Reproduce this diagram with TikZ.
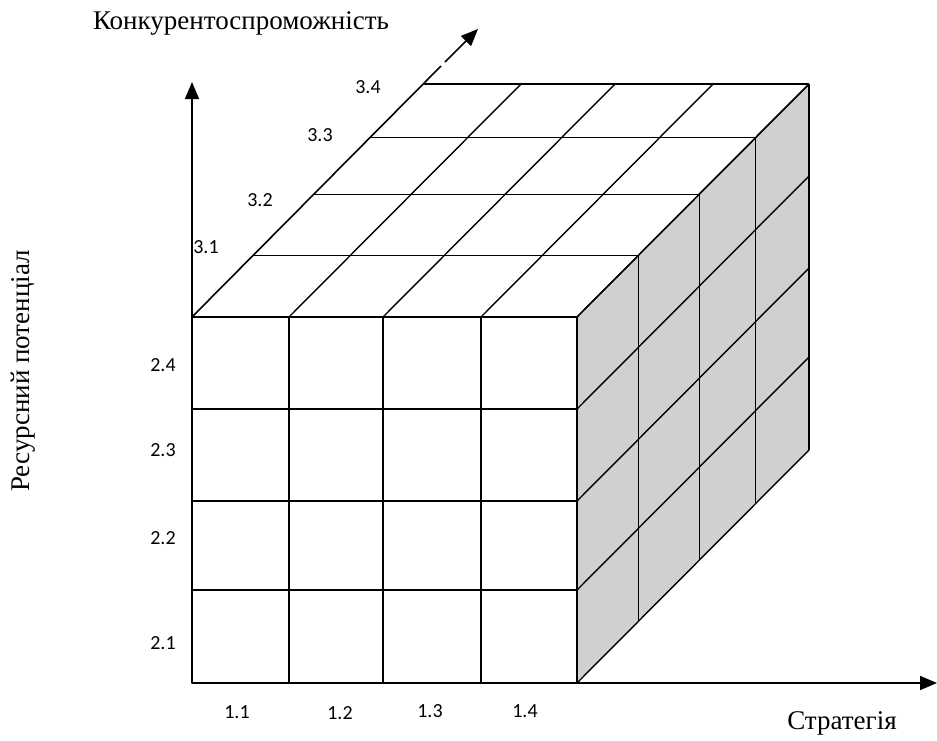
\documentclass[tikz,border=0pt]{standalone}
\usepackage{fontspec}
\setmainfont{Liberation Serif}
\newfontfamily\numfont{Carlito}
\usetikzlibrary{arrows.meta}
\definecolor{facegray}{RGB}{208,208,208}
\begin{document}
\begin{tikzpicture}[x=1pt,y=-1pt,
  grid/.style={line width=1.4pt, line join=round},
  ax/.style={line width=1.6pt,-{Triangle[length=17pt,width=14pt]}},
  axline/.style={line width=1.6pt},
  num/.style={font=\numfont\fontsize{20}{24}\selectfont, inner sep=0pt},
  lab/.style={font=\fontsize{27}{32}\selectfont, inner sep=0pt}]
\useasboundingbox (0,0) rectangle (937,740);
% right face fill
\fill[facegray] (577,317) -- (809,84) -- (809,450) -- (577,683) -- cycle;
% front face
\draw[grid] (192,317) rectangle (577,683);
\foreach \x in {289,383,481} \draw[grid] (\x,317) -- (\x,683);
\foreach \y in {409,501,590} \draw[grid] (192,\y) -- (577,\y);
% right face
\foreach \t in {0.264,0.527,0.77,1}
  \draw[grid] ({577+232*\t},{317-233*\t}) -- ({577+232*\t},{683-233*\t});
\foreach \y in {317,409,501,590,683}
  \draw[grid] (577,\y) -- (809,{\y-233});
% top face
\foreach \t in {0.264,0.527,0.77,1}
  \draw[grid] ({192+232*\t},{317-233*\t}) -- ({577+232*\t},{317-233*\t});
\foreach \x in {289,383,481,577}
  \draw[grid] (\x,317) -- ({\x+232},84);
% axes
\draw[axline] (192,317) -- (441,66);
\draw[ax] (445,62) -- (478,29);
\draw[ax] (192,683) -- (192,82);
\draw[ax] (192,683) -- (937,683);
% axis titles
\node[lab] (tK) at (241,23) {Конкурентоспроможність};
\node[lab, rotate=90] (tR) at (23,371) {Ресурсний потенціал};
\node[lab] (tS) at (842,723) {Стратегія};
% numbers
\node[num] (n11) at (237,712) {1.1};
\node[num] (n12) at (340,713) {1.2};
\node[num] (n13) at (430,711) {1.3};
\node[num] (n14) at (525,711) {1.4};
\node[num] (n21) at (163,643) {2.1};
\node[num] (n22) at (163,538) {2.2};
\node[num] (n23) at (163,450) {2.3};
\node[num] (n24) at (163,365) {2.4};
\node[num] (n31) at (206,247) {3.1};
\node[num] (n32) at (260,200) {3.2};
\node[num] (n33) at (320,135) {3.3};
\node[num] (n34) at (368,87) {3.4};
\end{tikzpicture}
\end{document}
